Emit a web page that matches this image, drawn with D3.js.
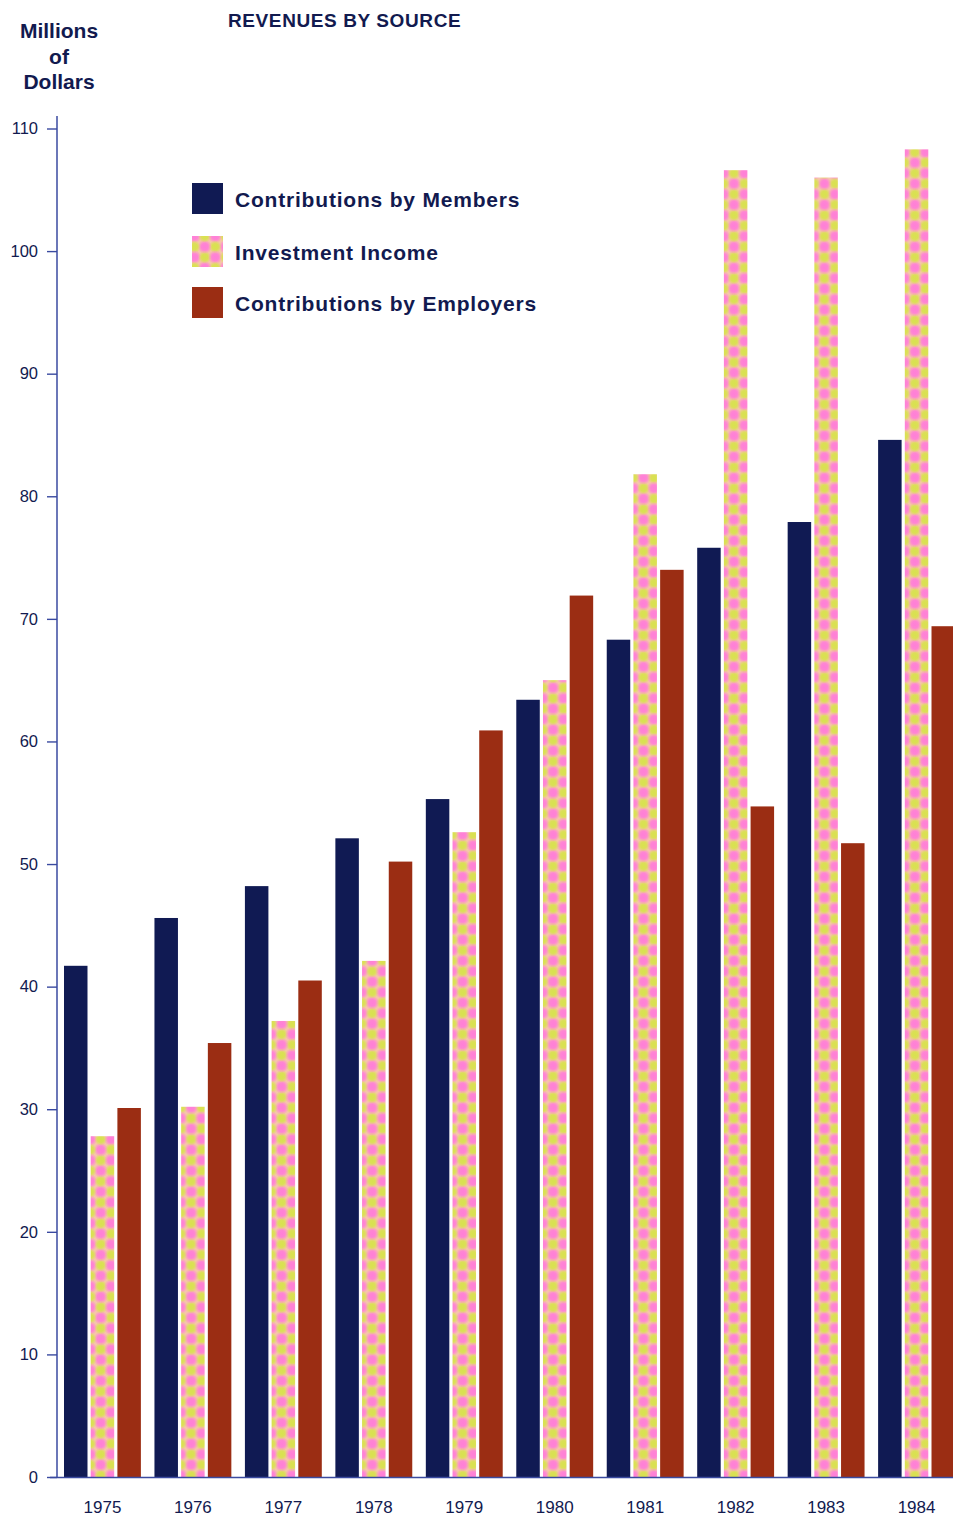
<!DOCTYPE html>
<html>
<head>
<meta charset="utf-8">
<script src="https://cdn.jsdelivr.net/npm/d3@7/dist/d3.min.js"></script>
<style>
  html, body { margin: 0; padding: 0; background: #ffffff; }
  svg { display: block; }
  text { font-family: "Liberation Sans", Arial, Helvetica, sans-serif; fill: #121a4f; }
</style>
</head>
<body>
<svg id="chart" width="953" height="1522"></svg>
<script>
// Revenues by source, millions of dollars
const years = ["1975","1976","1977","1978","1979","1980","1981","1982","1983","1984"];
const members    = [41.7, 45.6, 48.2, 52.1, 55.3, 63.4, 68.3, 75.8, 77.9, 84.6];
const investment = [27.8, 30.2, 37.2, 42.1, 52.6, 65.0, 81.8, 106.6, 106.0, 108.3];
const employers  = [30.1, 35.4, 40.5, 50.2, 60.9, 71.9, 74.0, 54.7, 51.7, 69.4];
const seriesKeys = ["members", "investment", "employers"];
const seriesNames = ["Contributions by Members", "Investment Income", "Contributions by Employers"];
const yTicks = [0, 10, 20, 30, 40, 50, 60, 70, 80, 90, 100, 110];

const svg = d3.select("#chart");
const W = 953, H = 1522;

const NAVY = "#101a53";
const RUST = "#9b2d13";
const AXIS = "#3a4aa0";

// Checkered soft-dot fill for investment income
const defs = svg.append("defs");
function dotGrad(id, color) {
  const g = defs.append("radialGradient").attr("id", id);
  g.append("stop").attr("offset", "0%").attr("stop-color", color).attr("stop-opacity", 1);
  g.append("stop").attr("offset", "50%").attr("stop-color", color).attr("stop-opacity", 0.9);
  g.append("stop").attr("offset", "100%").attr("stop-color", color).attr("stop-opacity", 0);
}
dotGrad("pinkDot", "#ff7ed8");
dotGrad("greenDot", "#d8e24e");
const P = 21, h = P / 4;
const pat = defs.append("pattern")
  .attr("id", "invPattern")
  .attr("patternUnits", "userSpaceOnUse")
  .attr("width", P).attr("height", P);
pat.append("rect").attr("width", P).attr("height", P).attr("fill", "#f6c6a8");
// repeat the four dots over neighbouring tiles so they stay round across tile edges
const wrapped = [];
[[0,0],[P,0],[-P,0],[0,P],[0,-P],[P,P],[-P,-P],[P,-P],[-P,P]].forEach(([dx, dy]) => {
  [[h, h, "pinkDot"], [3*h, 3*h, "pinkDot"], [3*h, h, "greenDot"], [h, 3*h, "greenDot"]]
    .forEach(([cx, cy, g]) => wrapped.push([cx + dx, cy + dy, g]));
});
pat.selectAll("circle").data(wrapped).join("circle")
  .attr("cx", d => d[0]).attr("cy", d => d[1])
  .attr("r", d => d[2] === "pinkDot" ? 7 : 6.4)
  .attr("fill", d => `url(#${d[2]})`);

const fills = { members: NAVY, investment: "url(#invPattern)", employers: RUST };

// Scales
const y = d3.scaleLinear().domain([0, 110]).range([1477, 128.5]);
const x = d3.scaleBand().domain(years).range([64, 955]).paddingInner(0.15).paddingOuter(0);
const xs = d3.scaleBand().domain(seriesKeys).range([0, x.bandwidth()]).paddingInner(0.12);

const rows = years.map((yr, i) => ({
  year: yr, members: members[i], investment: investment[i], employers: employers[i]
}));

// Bars
const groups = svg.append("g").selectAll("g").data(rows).join("g")
  .attr("transform", d => `translate(${x(d.year)},0)`);
groups.selectAll("rect")
  .data(d => seriesKeys.map(k => ({ key: k, value: d[k] })))
  .join("rect")
  .attr("x", d => xs(d.key))
  .attr("width", xs.bandwidth())
  .attr("y", d => y(d.value))
  .attr("height", d => y(0) - y(d.value))
  .attr("fill", d => fills[d.key]);

// Y axis
const yAxis = d3.axisLeft(y).tickValues(yTicks).tickSize(10).tickPadding(9).tickSizeOuter(0);
const gy = svg.append("g").attr("transform", "translate(57,0)").call(yAxis);
gy.select(".domain").remove();
gy.selectAll(".tick line").attr("stroke", AXIS).attr("stroke-width", 1.4);
gy.selectAll(".tick text")
  .style("font-family", "'Liberation Sans', Arial, sans-serif")
  .style("font-size", "16.5px").attr("fill", "#121a4f");
svg.append("line").attr("x1", 57).attr("x2", 57).attr("y1", 116).attr("y2", y(0))
  .attr("stroke", AXIS).attr("stroke-width", 1.5);

// X axis baseline and year labels
const xAxis = d3.axisBottom(x).tickSize(0).tickPadding(24);
const gx = svg.append("g").attr("transform", `translate(0,${y(0)})`).call(xAxis);
gx.select(".domain").remove();
gx.selectAll(".tick text")
  .style("font-family", "'Liberation Sans', Arial, sans-serif")
  .style("font-size", "17px").attr("fill", "#121a4f");
svg.append("line").attr("x1", 50).attr("x2", W).attr("y1", y(0) + 0.5).attr("y2", y(0) + 0.5)
  .attr("stroke", AXIS).attr("stroke-width", 1.6);

// Title
svg.append("text").attr("x", 228).attr("y", 27)
  .style("font-size", "19px").style("font-weight", "bold").style("letter-spacing", "0.6px")
  .text("REVENUES BY SOURCE");

// Y axis title
["Millions", "of", "Dollars"].forEach((t, i) => {
  svg.append("text").attr("x", 59).attr("y", 38 + i * 25.5)
    .attr("text-anchor", "middle")
    .style("font-size", "21px").style("font-weight", "bold")
    .text(t);
});

// Legend
const legendTop = [183, 236, 287];
const lg = svg.append("g");
seriesKeys.forEach((k, i) => {
  lg.append("rect").attr("x", 192).attr("y", legendTop[i])
    .attr("width", 31).attr("height", 31).attr("fill", fills[k]);
  lg.append("text").attr("x", 235).attr("y", legendTop[i] + 24)
    .style("font-size", "21px").style("font-weight", "bold").style("letter-spacing", "0.8px")
    .text(seriesNames[i]);
});
</script>
</body>
</html>
